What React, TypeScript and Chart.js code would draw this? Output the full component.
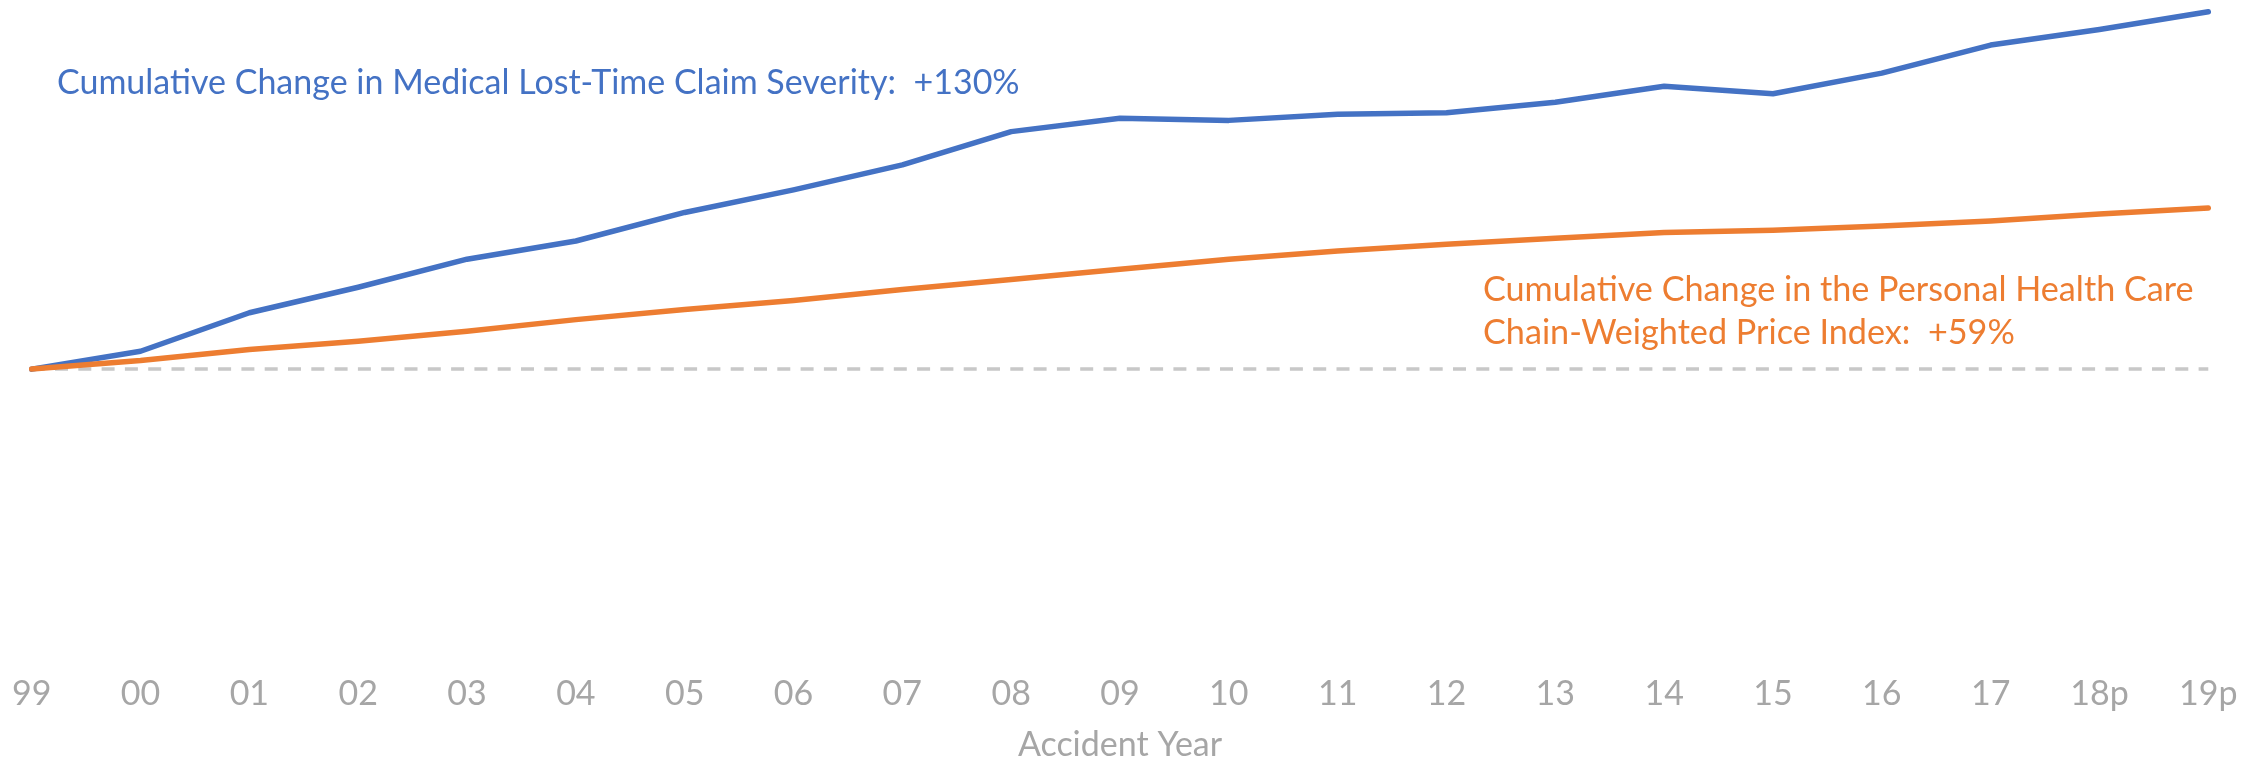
import React, { useEffect, useRef } from "react";
import { Chart, registerables } from "chart.js";

Chart.register(...registerables);

const accidentYears = ["99", "00", "01", "02", "03", "04", "05", "06", "07", "08", "09", "10", "11", "12", "13", "14", "15", "16", "17", "18p", "19p"];
const medicalSeverityChange = [0, 6.5, 20.5, 29.8, 40.0, 46.6, 57.0, 65.2, 74.3, 86.4, 91.3, 90.5, 92.7, 93.3, 97.1, 102.9, 100.2, 107.7, 117.9, 123.6, 130];
const healthCarePriceChange = [0, 3.1, 7.1, 10.1, 13.8, 18.0, 21.7, 25.0, 29.0, 32.6, 36.3, 40.0, 43.0, 45.4, 47.6, 49.7, 50.5, 52.1, 53.9, 56.4, 58.6];
const zeroBaseline = [0, 0, 0, 0, 0, 0, 0, 0, 0, 0, 0, 0, 0, 0, 0, 0, 0, 0, 0, 0, 0];

const medicalLabel = "Cumulative Change in Medical Lost-Time Claim Severity:  +130%";
const priceLabelLines = ["Cumulative Change in the Personal Health Care", "Chain-Weighted Price Index:  +59%"];
const axisTitle = "Accident Year";

const BLUE = "#4472C4";
const ORANGE = "#ED7D31";
const GREY_TEXT = "#A6A6A6";
const DASH_GREY = "#C8C8C8";
const FONT = "Lato, 'Noto Sans', sans-serif";

const annotationPlugin = {
  id: "textAnnotations",
  afterDatasetsDraw(chart: any) {
    const ctx = chart.ctx;
    ctx.save();
    ctx.textAlign = "left";
    ctx.textBaseline = "alphabetic";
    ctx.font = `34px ${FONT}`;
    ctx.fillStyle = BLUE;
    ctx.fillText(medicalLabel, 57, 94);
    ctx.font = `34.2px ${FONT}`;
    ctx.fillStyle = ORANGE;
    ctx.fillText(priceLabelLines[0], 1483, 301);
    ctx.fillText(priceLabelLines[1], 1483, 344);
    ctx.restore();
  },
};

export default function App() {
  const canvasRef = useRef<HTMLCanvasElement | null>(null);

  useEffect(() => {
    if (!canvasRef.current) return;
    const chart = new Chart(canvasRef.current, {
      type: "line",
      data: {
        labels: accidentYears,
        datasets: [
          {
            label: "Personal Health Care Price Index",
            data: healthCarePriceChange,
            borderColor: ORANGE,
            borderWidth: 5.5,
            pointRadius: 0,
            tension: 0,
            borderCapStyle: "round",
            borderJoinStyle: "round",
            order: 0,
          },
          {
            label: "Medical Lost-Time Claim Severity",
            data: medicalSeverityChange,
            borderColor: BLUE,
            borderWidth: 5.5,
            pointRadius: 0,
            tension: 0,
            borderCapStyle: "round",
            borderJoinStyle: "round",
            order: 1,
          },
          {
            label: "Baseline",
            data: zeroBaseline,
            borderColor: DASH_GREY,
            borderWidth: 3.5,
            borderDash: [13, 10.3],
            pointRadius: 0,
            tension: 0,
            order: 2,
          },
        ],
      },
      options: {
        animation: false,
        responsive: true,
        maintainAspectRatio: false,
        layout: { padding: { left: 31.7, right: 55.7, top: 0, bottom: 0 } },
        plugins: {
          legend: { display: false },
          tooltip: { enabled: false },
        },
        scales: {
          x: {
            type: "category",
            offset: false,
            grid: { display: false, drawTicks: false },
            border: { display: false },
            ticks: {
              color: GREY_TEXT,
              font: { family: FONT, size: 34, lineHeight: 1.2 },
              padding: 10,
              autoSkip: false,
              maxRotation: 0,
            },
            title: {
              display: true,
              text: axisTitle,
              color: GREY_TEXT,
              font: { family: FONT, size: 34, lineHeight: 0.8 },
              padding: { top: 7, bottom: 0 },
            },
          },
          y: {
            display: false,
            min: -107.3,
            max: 134.3,
          },
        },
      },
      plugins: [annotationPlugin],
    });
    return () => chart.destroy();
  }, []);

  return (
    <div style={{ position: "fixed", left: 0, top: 0, width: 2264, height: 759, background: "#fff" }}>
      <canvas ref={canvasRef} />
    </div>
  );
}
